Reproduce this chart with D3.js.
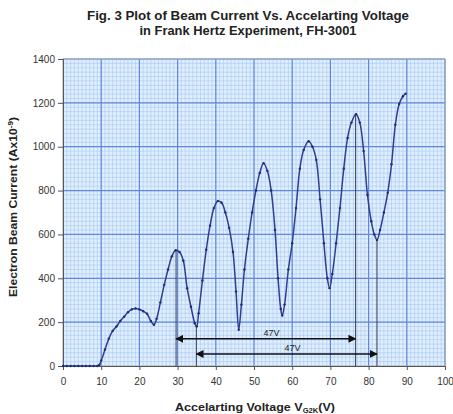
<!DOCTYPE html>
<html>
<head>
<meta charset="utf-8">
<script src="https://cdn.jsdelivr.net/npm/d3@7"></script>
<style>
  body { margin: 0; background: #fff; }
  svg { display: block; }
  text { font-family: 'Liberation Sans', Arial, sans-serif; }
</style>
</head>
<body>
<div id="vis"></div>
<script>

// Beam current (Ax10^-9), against accelerating voltage (V)
var voltage = [
  0, 1, 2, 3, 4, 5, 6, 7, 8, 9, 9.5, 10, 11, 12, 13, 14, 15, 16, 17, 18,
  19, 20, 21, 22, 23, 23.8, 24.5, 25.5, 26.5, 27.5, 28.5, 29.5, 30.5, 31.5,
  32.5, 33.5, 34.5, 35, 35.5, 36.5, 37.5, 38.5, 39.5, 40.5, 41.5, 42.5, 43.5,
  44.5, 45.3, 46, 46.7, 47.5, 48.5, 49.5, 50.5, 51.5, 52.5, 53.5, 54.5, 55.5,
  56.3, 57, 57.4, 58, 59, 60, 61, 62, 63, 64.3, 65.3, 66.3, 67.3, 68.3, 69.2,
  69.8, 70.5, 71.5, 72.5, 73.5, 74.5, 75.5, 76.7, 77.7, 78.7, 79.7, 80.7,
  81.5, 82.2, 83, 84, 85, 86, 87, 88, 89, 89.7
];

var current = [
  0, 0, 0, 0, 0, 0, 0, 0, 0, 0, 5, 25, 75, 125, 160, 180, 205, 225, 245, 258,
  262, 258, 250, 238, 205, 188, 215, 290, 370, 440, 500, 528, 520, 480,
  355, 270, 195, 180, 240, 390, 530, 640, 720, 752, 745, 700, 630,
  520, 340, 165, 280, 440, 580, 700, 800, 880, 925, 890, 800, 620,
  400, 260, 230, 280, 440, 560, 720, 900, 985, 1025, 1000, 940, 760, 560, 400,
  355, 420, 560, 720, 900, 1040, 1110, 1148, 1110, 980, 780, 660,
  600, 575, 620, 700, 790, 920, 1100, 1195, 1230, 1242
];

// Vertical marker lines at the peaks / valleys used for the 47 V spacing
var markerVoltage = [29.6, 34.9, 76.6, 82.2];
var markerCurrent = [528, 182, 1148, 575];

var arrowFrom = [29.6, 34.9];
var arrowTo = [76.6, 82.2];
var arrowLevel = [124, 55];
var arrowLabels = ['47V', '47V'];

var xTicks = [0, 10, 20, 30, 40, 50, 60, 70, 80, 90, 100];
var yTicks = [0, 200, 400, 600, 800, 1000, 1200, 1400];

var titleLines = [
  'Fig. 3 Plot of Beam Current Vs. Accelarting Voltage',
  'in Frank Hertz Experiment, FH-3001'
];

(function () {

  'strict';

  var width = 453;
  var height = 414;

  var margin = {
    top: 59,
    right: 8,
    bottom: 48,
    left: 63
  };

  var innerW = width - margin.left - margin.right;
  var innerH = height - margin.top - margin.bottom;

  var x = d3.scaleLinear()
    .domain([0, 100])
    .range([0, innerW]);

  var y = d3.scaleLinear()
    .domain([0, 1400])
    .range([innerH, 0]);

  var svg = d3.select('#vis')
    .append('svg')
      .attr('width', width)
      .attr('height', height);

  var defs = svg.append('defs');

  defs.append('marker')
      .attr('id', 'head')
      .attr('viewBox', '0 0 10 10')
      .attr('refX', 9)
      .attr('refY', 5)
      .attr('markerWidth', 5)
      .attr('markerHeight', 5)
      .attr('orient', 'auto-start-reverse')
    .append('path')
      .attr('d', 'M0,0L10,5L0,10z')
      .attr('fill', '#111');

  // Title (condensed bold, as in the spreadsheet figure)
  var titleWidths = [322, 217];

  svg.append('g')
    .selectAll('text')
      .data(titleLines)
      .enter()
    .append('text')
      .attr('x', 248)
      .attr('y', function (d, i) { return 20 + i * 15; })
      .attr('text-anchor', 'middle')
      .attr('textLength', function (d, i) { return titleWidths[i]; })
      .attr('lengthAdjust', 'spacingAndGlyphs')
      .style('font-size', '13.5px')
      .style('font-weight', 'bold')
      .attr('fill', '#222')
      .text(function (d) { return d; });

  var g = svg.append('g')
      .attr('transform', 'translate(' + margin.left + ',' + margin.top + ')');

  // Graph-paper background
  g.append('rect')
      .attr('width', innerW)
      .attr('height', innerH)
      .attr('fill', '#e0effd');

  g.append('g')
      .attr('stroke', '#a6c8f1')
      .attr('stroke-width', 0.6)
    .selectAll('line')
      .data(d3.range(1, 100))
      .enter()
    .append('line')
      .attr('x1', function (d) { return x(d); })
      .attr('x2', function (d) { return x(d); })
      .attr('y1', 0)
      .attr('y2', innerH);

  g.append('g')
      .attr('stroke', '#a6c8f1')
      .attr('stroke-width', 0.6)
    .selectAll('line')
      .data(d3.range(20, 1400, 20))
      .enter()
    .append('line')
      .attr('x1', 0)
      .attr('x2', innerW)
      .attr('y1', function (d) { return y(d); })
      .attr('y2', function (d) { return y(d); });

  // Major grid
  g.append('g')
      .attr('stroke', '#6386dd')
      .attr('stroke-width', 1.2)
    .selectAll('line')
      .data(xTicks.slice(1))
      .enter()
    .append('line')
      .attr('x1', function (d) { return x(d); })
      .attr('x2', function (d) { return x(d); })
      .attr('y1', 0)
      .attr('y2', innerH);

  g.append('g')
      .attr('stroke', '#6386dd')
      .attr('stroke-width', 1.2)
    .selectAll('line')
      .data(yTicks.slice(1))
      .enter()
    .append('line')
      .attr('x1', 0)
      .attr('x2', innerW)
      .attr('y1', function (d) { return y(d); })
      .attr('y2', function (d) { return y(d); });

  g.append('rect')
      .attr('width', innerW)
      .attr('height', innerH)
      .attr('fill', 'none')
      .attr('stroke', '#9aa6b8')
      .attr('stroke-width', 1);

  // Axes
  var xAxis = d3.axisBottom(x)
      .tickValues(xTicks)
      .tickFormat(d3.format('d'))
      .tickSize(4)
      .tickPadding(8);

  var yAxis = d3.axisLeft(y)
      .tickValues(yTicks)
      .tickFormat(d3.format('d'))
      .tickSize(5)
      .tickPadding(3);

  g.append('g')
      .attr('transform', 'translate(0,' + innerH + ')')
      .call(xAxis)
      .call(styleAxis);

  g.append('g')
      .call(yAxis)
      .call(styleAxis);

  // Marker verticals
  g.append('g')
      .attr('stroke', '#3a3f4a')
      .attr('stroke-width', 1)
    .selectAll('line')
      .data(markerVoltage)
      .enter()
    .append('line')
      .attr('x1', function (d) { return x(d); })
      .attr('x2', function (d) { return x(d); })
      .attr('y1', function (d, i) { return y(markerCurrent[i]); })
      .attr('y2', innerH);

  // Curve
  var points = voltage.map(function (v, i) {
    return { v: v, c: current[i] };
  });

  var line = d3.line()
      .x(function (d) { return x(d.v); })
      .y(function (d) { return y(d.c); })
      .curve(d3.curveCatmullRom.alpha(0.5));

  g.append('path')
      .datum(points)
      .attr('fill', 'none')
      .attr('stroke', '#2e3f92')
      .attr('stroke-width', 1.5)
      .attr('d', line);

  g.append('g')
      .attr('fill', '#1f2c70')
    .selectAll('circle')
      .data(points)
      .enter()
    .append('circle')
      .attr('r', 1.2)
      .attr('cx', function (d) { return x(d.v); })
      .attr('cy', function (d) { return y(d.c); });

  // 47 V arrows
  var arrows = g.append('g')
    .selectAll('g')
      .data(arrowLevel)
      .enter()
    .append('g');

  arrows.append('line')
      .attr('x1', function (d, i) { return x(arrowFrom[i]); })
      .attr('x2', function (d, i) { return x(arrowTo[i]); })
      .attr('y1', function (d) { return y(d); })
      .attr('y2', function (d) { return y(d); })
      .attr('stroke', '#111')
      .attr('stroke-width', 1.6)
      .attr('marker-start', 'url(#head)')
      .attr('marker-end', 'url(#head)');

  arrows.append('text')
      .attr('x', function (d, i) { return x((arrowFrom[i] + arrowTo[i]) / 2 + 1.5); })
      .attr('y', function (d) { return y(d) - 2.5; })
      .attr('text-anchor', 'middle')
      .style('font-size', '9px')
      .attr('fill', '#222')
      .text(function (d, i) { return arrowLabels[i]; });

  // Axis titles
  var xTitle = svg.append('text')
      .attr('x', 255)
      .attr('y', 411)
      .attr('text-anchor', 'middle')
      .attr('textLength', 160)
      .attr('lengthAdjust', 'spacingAndGlyphs')
      .style('font-size', '11.5px')
      .style('font-weight', 'bold')
      .attr('fill', '#222');

  xTitle.append('tspan').text('Accelarting Voltage V');
  xTitle.append('tspan')
      .attr('dy', 2)
      .style('font-size', '7px')
      .text('G2K');
  xTitle.append('tspan')
      .attr('dy', -2)
      .text('(V)');

  var yTitle = svg.append('text')
      .attr('transform', 'translate(17,207) rotate(-90)')
      .attr('text-anchor', 'middle')
      .attr('textLength', 180)
      .attr('lengthAdjust', 'spacingAndGlyphs')
      .style('font-size', '10.5px')
      .style('font-weight', 'bold')
      .attr('fill', '#222');

  yTitle.append('tspan').text('Electron Beam Current (Ax10');
  yTitle.append('tspan')
      .attr('dy', -4)
      .style('font-size', '7px')
      .text('-9');
  yTitle.append('tspan')
      .attr('dy', 4)
      .text(')');

  function styleAxis(sel) {

    sel.select('.domain')
        .attr('stroke', '#555');

    sel.selectAll('.tick line')
        .attr('stroke', '#555');

    sel.selectAll('.tick text')
        .attr('fill', '#333')
        .style('font-size', '10px');
  }
})();
</script>
</body>
</html>
